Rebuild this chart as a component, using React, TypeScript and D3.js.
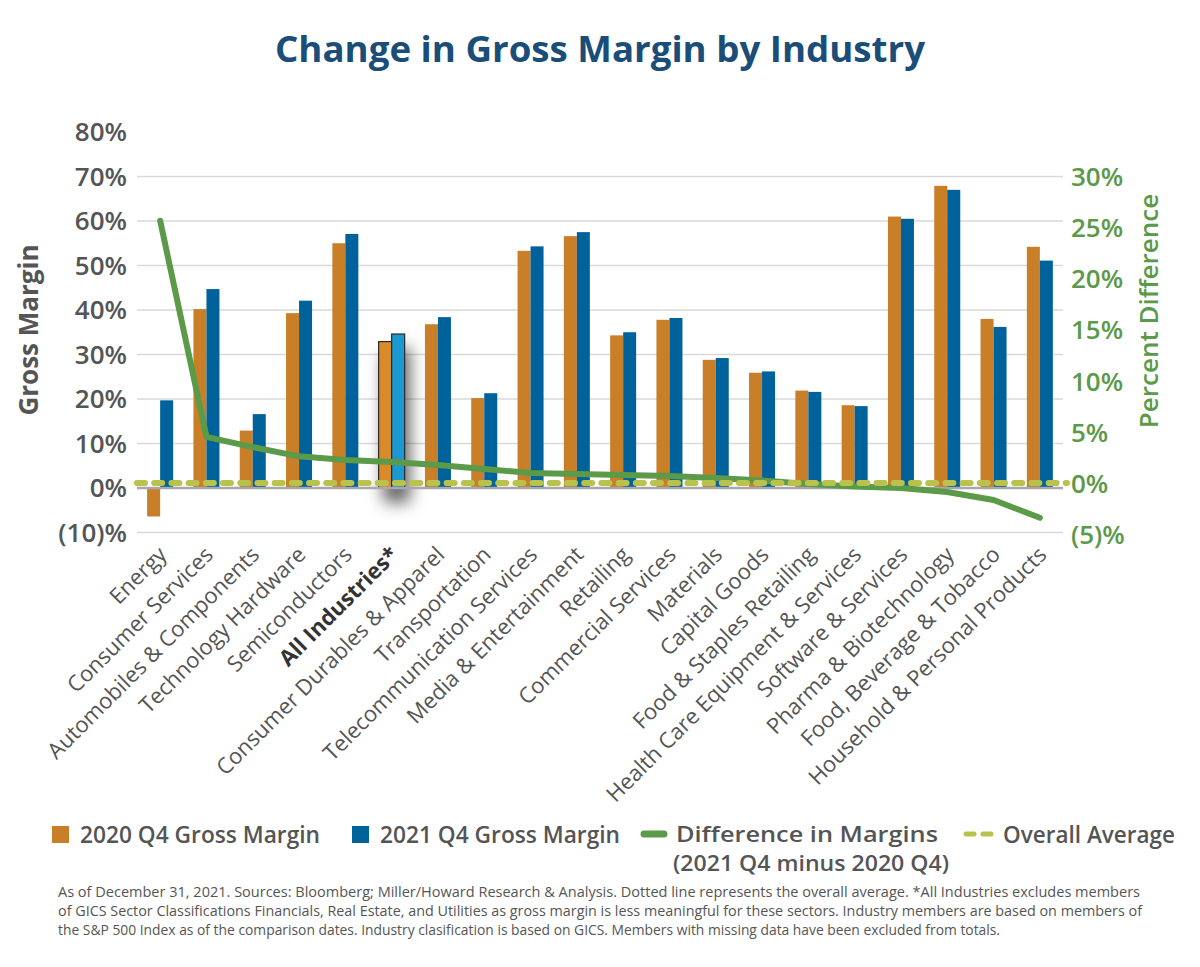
import React from 'react';
import * as d3 from 'd3';

const categories = [
  'Energy',
  'Consumer Services',
  'Automobiles & Components',
  'Technology Hardware',
  'Semiconductors',
  'All Industries*',
  'Consumer Durables & Apparel',
  'Transportation',
  'Telecommunication Services',
  'Media & Entertainment',
  'Retailing',
  'Commercial Services',
  'Materials',
  'Capital Goods',
  'Food & Staples Retailing',
  'Health Care Equipment & Services',
  'Software & Services',
  'Pharma & Biotechnology',
  'Food, Beverage & Tobacco',
  'Household & Personal Products',
];

const margin2020 = [-6.4, 40.2, 12.9, 39.3, 55.0, 32.9, 36.8, 20.2, 53.3, 56.6, 34.3, 37.8, 28.8, 25.9, 21.9, 18.6, 61.0, 67.9, 38.0, 54.2];
const margin2021 = [19.7, 44.7, 16.6, 42.1, 57.1, 34.6, 38.4, 21.3, 54.3, 57.5, 35.0, 38.2, 29.2, 26.2, 21.6, 18.4, 60.5, 67.0, 36.2, 51.1];
const difference = [25.7, 4.6, 3.6, 2.7, 2.35, 2.15, 1.85, 1.46, 1.07, 0.98, 0.88, 0.78, 0.59, 0.34, 0.0, -0.24, -0.39, -0.78, -1.56, -3.3];
const overallAverage = 0.1;

const leftTicks = [-10, 0, 10, 20, 30, 40, 50, 60, 70, 80];
const rightTicks = [-5, 0, 5, 10, 15, 20, 25, 30];
const highlight = 'All Industries*';

const footnote = [
  'As of December 31, 2021. Sources: Bloomberg; Miller/Howard Research & Analysis. Dotted line represents the overall average.  *All Industries excludes members',
  'of GICS Sector Classifications Financials, Real Estate, and Utilities as gross margin is less meaningful for these sectors. Industry members are based on members of',
  'the S&P 500 Index as of the comparison dates. Industry clasification is based on GICS. Members with missing data have been excluded from totals.',
];

const ORANGE = '#c97e28';
const BLUE = '#00629b';
const GREEN = '#5b9a48';
const AVG = '#b9c24c';
const GRAY = '#555555';
const FONT = '"Open Sans", "DejaVu Sans", sans-serif';

const fmtPct = (v: number) => (v < 0 ? `(${-v})%` : `${v}%`);

export default function App() {
  const width = 1200;
  const height = 967;

  const x = d3.scaleBand<string>().domain(categories).range([137, 1063]);
  const y = d3.scaleLinear().domain([-10, 80]).range([532.5, 132]);
  const yR = d3.scaleLinear().domain([-5, 30]).range([535.2, 176.7]);

  const barW = 13;
  const line = d3
    .line<number>()
    .x((_, i) => (x(categories[i]) as number) + x.bandwidth() / 2)
    .y((d) => yR(d));

  const x0 = x.range()[0];
  const x1 = x.range()[1];

  return (
    <svg width={width} height={height} style={{ position: 'absolute', left: 0, top: 0, background: '#fff' }} fontFamily={FONT}>
      <defs>
        <filter id="shadow" x="-100%" y="-50%" width="300%" height="200%">
          <feDropShadow dx="5" dy="14" stdDeviation="8" floodColor="#000" floodOpacity="0.6" />
        </filter>
      </defs>

      <text x={600} y={62} textAnchor="middle" fontSize={36} fontWeight={700} fill="#1b4d79" textLength={650} lengthAdjust="spacingAndGlyphs">
        Change in Gross Margin by Industry
      </text>

      {/* gridlines */}
      {leftTicks
        .filter((t) => t !== 0 && t !== 80)
        .map((t) => (
          <line key={t} x1={x0} x2={x1} y1={y(t)} y2={y(t)} stroke="#d9d9d9" strokeWidth={1.5} />
        ))}

      {/* left ticks */}
      {leftTicks.map((t) => (
        <text key={t} x={127} y={y(t)} dy="0.35em" textAnchor="end" fontSize={26} fontWeight={600} fill={GRAY}>
          {fmtPct(t)}
        </text>
      ))}

      {/* right ticks */}
      {rightTicks.map((t) => (
        <text key={t} x={1071} y={yR(t)} dy="0.35em" textAnchor="start" fontSize={26} fontWeight={600} fill={GREEN}>
          {fmtPct(t)}
        </text>
      ))}

      <text transform={`translate(38,${330}) rotate(-90)`} textAnchor="middle" fontSize={26} fontWeight={700} fill={GRAY}>
        Gross Margin
      </text>
      <text transform={`translate(1158,${311}) rotate(-90)`} textAnchor="middle" fontSize={26} fontWeight={600} fill={GREEN}>
        Percent Difference
      </text>

      {/* bars */}
      {categories.map((c, i) => {
        const cx = (x(c) as number) + x.bandwidth() / 2;
        const hl = c === highlight;
        const a = margin2020[i];
        const b = margin2021[i];
        const bars = (
          <>
            <rect
              x={cx - barW}
              y={y(Math.max(0, a))}
              width={barW}
              height={Math.abs(y(a) - y(0))}
              fill={hl ? '#d98b29' : ORANGE}
              stroke={hl ? '#2a2a2a' : 'none'}
              strokeWidth={1.2}
            />
            <rect
              x={cx}
              y={y(Math.max(0, b))}
              width={barW}
              height={Math.abs(y(b) - y(0))}
              fill={hl ? '#1a98d2' : BLUE}
              stroke={hl ? '#2a2a2a' : 'none'}
              strokeWidth={1.2}
            />
          </>
        );
        return hl ? (
          <g key={c} filter="url(#shadow)">
            {bars}
          </g>
        ) : (
          <g key={c}>{bars}</g>
        );
      })}

      {/* zero axis */}
      <line x1={x0} x2={x1} y1={y(0)} y2={y(0)} stroke="#a8a8a8" strokeWidth={2.5} />

      {/* difference line */}
      <path d={line(difference) || ''} fill="none" stroke={GREEN} strokeWidth={6} strokeLinejoin="round" strokeLinecap="round" />

      {/* overall average */}
      <line
        x1={x0}
        x2={x1 + 4}
        y1={yR(overallAverage)}
        y2={yR(overallAverage)}
        stroke={AVG}
        strokeWidth={6}
        strokeDasharray="8 9.2"
        strokeLinecap="round"
      />

      {/* category labels */}
      {categories.map((c) => {
        const cx = (x(c) as number) + x.bandwidth() / 2;
        const hl = c === highlight;
        return (
          <text
            key={c}
            transform={`translate(${cx + 8},556) rotate(-45)`}
            textAnchor="end"
            fontSize={22}
            fontWeight={hl ? 700 : 400}
            fill={hl ? '#333' : GRAY}
          >
            {c}
          </text>
        );
      })}

      {/* legend */}
      <g fontSize={23} fontWeight={600} fill={GRAY}>
        <rect x={52} y={826} width={17} height={17} fill={ORANGE} />
        <text x={80} y={843} textLength={240} lengthAdjust="spacingAndGlyphs">
          2020 Q4 Gross Margin
        </text>
        <rect x={352} y={826} width={17} height={17} fill={BLUE} />
        <text x={380} y={843} textLength={240} lengthAdjust="spacingAndGlyphs">
          2021 Q4 Gross Margin
        </text>
        <line x1={644} x2={664} y1={834} y2={834} stroke={GREEN} strokeWidth={7} strokeLinecap="round" />
        <text x={676} y={842} fontSize={21} textLength={262} lengthAdjust="spacingAndGlyphs">
          Difference in Margins
        </text>
        <text x={673} y={871} fontSize={21} textLength={276} lengthAdjust="spacingAndGlyphs">
          (2021 Q4 minus 2020 Q4)
        </text>
        <line x1={966} x2={996} y1={834} y2={834} stroke={AVG} strokeWidth={5} strokeDasharray="8 9" strokeLinecap="round" />
        <text x={1003} y={843} textLength={172} lengthAdjust="spacingAndGlyphs">
          Overall Average
        </text>
      </g>

      {/* footnote */}
      <g fontSize={14} fill={GRAY}>
        {footnote.map((t, i) => (
          <text key={i} x={58} y={897 + i * 19} textLength={i === 0 ? 1082 : i === 1 ? 1084 : 942} lengthAdjust="spacingAndGlyphs">
            {t}
          </text>
        ))}
      </g>
    </svg>
  );
}
